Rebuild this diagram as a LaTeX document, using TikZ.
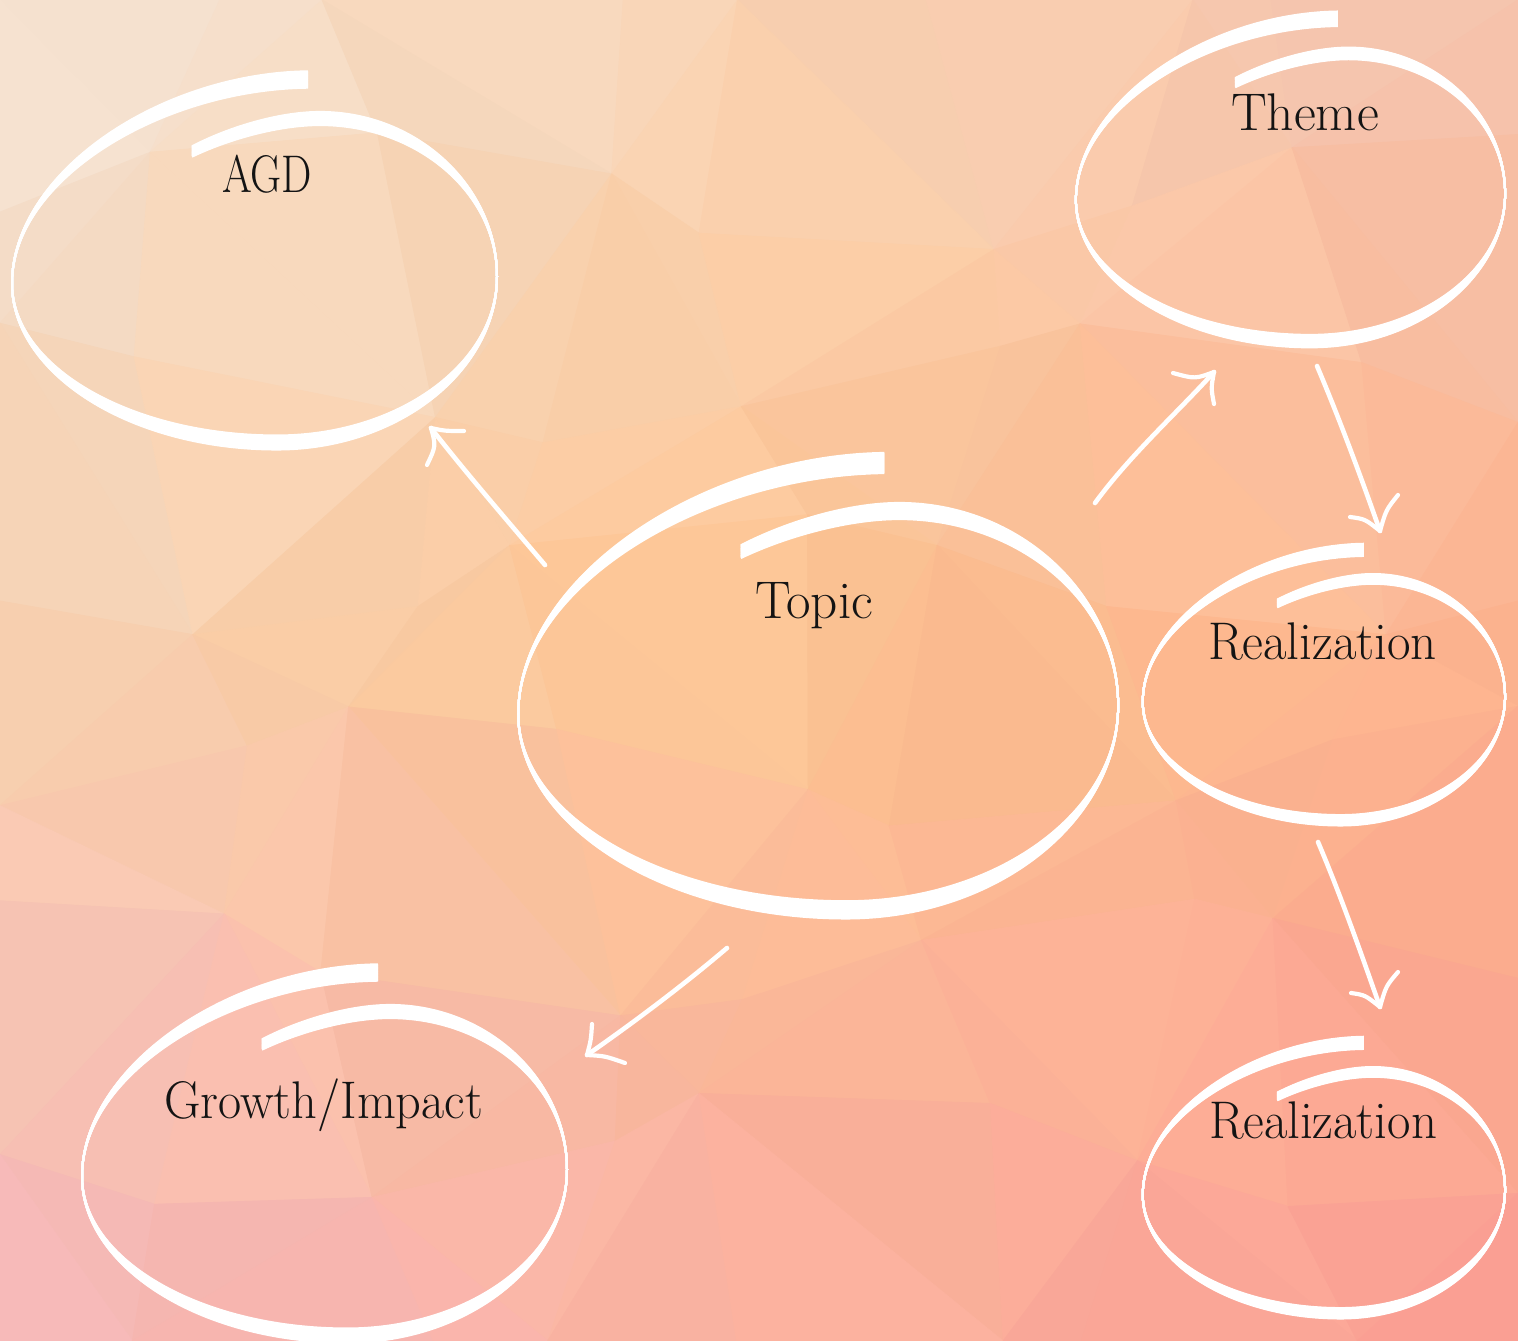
\documentclass[tikz,border=0pt]{standalone}
\usepackage{graphicx}
\definecolor{txt}{HTML}{141414}
\tikzset{
  hoopline/.style={white, line width=2pt, line cap=butt, line join=round},
  shaft/.style={white, line width=4.6pt, line cap=round},
  barb/.style={white, line width=4.2pt, line cap=round},
  lbl/.style={anchor=base, inner sep=0pt, text=txt, font=\fontsize{53}{56}\selectfont},
}
\newcommand\fitw[2]{\resizebox{#1}{\height}{#2}}
% piecewise bilinear colour field (3x3 control grid) + noise
\newcommand\bgcolorat[4]{%
  \pgfmathsetmacro\bwa{max(0,1-2*#1)}%
  \pgfmathsetmacro\bwc{max(0,2*#1-1)}%
  \pgfmathsetmacro\bwb{1-\bwa-\bwc}%
  \pgfmathsetmacro\bva{max(0,1-2*#2)}%
  \pgfmathsetmacro\bvc{max(0,2*#2-1)}%
  \pgfmathsetmacro\bvb{1-\bva-\bvc}%
  \pgfmathtruncatemacro\bgR{min(255,max(0,\bva*(\bwa*243+\bwb*249+\bwc*247)+\bvb*(\bwa*249+\bwb*253+\bwc*253)+\bvc*(\bwa*246+\bwb*250+\bwc*251)+#3))}%
  \pgfmathtruncatemacro\bgG{min(255,max(0,\bva*(\bwa*229+\bwb*213+\bwc*198)+\bvb*(\bwa*211+\bwb*196+\bwc*178)+\bvc*(\bwa*183+\bwb*175+\bwc*157)+#3))}%
  \pgfmathtruncatemacro\bgB{min(255,max(0,\bva*(\bwa*215+\bwb*182+\bwc*178)+\bvb*(\bwa*180+\bwb*146+\bwc*142)+\bvc*(\bwa*187+\bwb*161+\bwc*147)+#3))}%
  \definecolor{#4}{RGB}{\bgR,\bgG,\bgB}%
}
\newcommand\meshpt[4]{%
  \pgfmathsetmacro#3{#1*1518/8+(#1>0)*(#1<8)*60*sin(#1*137+#2*71+13)}%
  \pgfmathsetmacro#4{#2*1341/7+(#2>0)*(#2<7)*60*sin(#1*61+#2*113+47)}%
}
\newcommand\bgtri[6]{%
  \pgfmathsetmacro\bgu{(#1+#3+#5)/3/1518}%
  \pgfmathsetmacro\bgv{(#2+#4+#6)/3/1341}%
  \pgfmathsetmacro\bgn{2*sin(\bgu*5011+\bgv*3023)}%
  \bgcolorat{\bgu}{\bgv}{\bgn}{tric}%
  \filldraw[fill=tric, draw=tric, line width=0.8pt, line join=round] (#1,#2) -- (#3,#4) -- (#5,#6) -- cycle;%
}
% hand-drawn hoop (reference geometry = AGD hoop, box origin (11,73))
\newcommand\hoop[4]{%
  \begin{scope}[shift={(#1,#2)}, xscale=#3, yscale=#4, shift={(-11,-73)}]
    \foreach \s in {-1,-0.9,...,1.01}{%
      \draw[hoopline, shift={(254,275)}, yscale={1+0.042*\s}, shift={(-254,-268.5)}]
        (192,145) .. controls (230,126) and (280,112) .. (320,112)
        .. controls (417,112) and (497,183) .. (497,270)
        .. controls (497,361) and (398,436) .. (277,436)
        .. controls (131,436) and (12,364) .. (12,277)
        .. controls (12,170) and (160,75) .. (308,73);
    }
  \end{scope}%
}
\begin{document}
\begin{tikzpicture}[x=1pt,y=-1pt]
\useasboundingbox (0,0) rectangle (1518,1341);
\fill[orange!40] (0,0) rectangle (1518,1341);
% low-poly background
\foreach \i in {0,...,7}{
  \foreach \j in {0,...,6}{
    \pgfmathtruncatemacro\ii{\i+1}
    \pgfmathtruncatemacro\jj{\j+1}
    \meshpt{\i}{\j}{\xa}{\ya}
    \meshpt{\ii}{\j}{\xb}{\yb}
    \meshpt{\ii}{\jj}{\xc}{\yc}
    \meshpt{\i}{\jj}{\xd}{\yd}
    \pgfmathtruncatemacro\pty{mod(\i+\j,2)}
    \ifnum\pty=0
      \bgtri{\xa}{\ya}{\xb}{\yb}{\xc}{\yc}
      \bgtri{\xa}{\ya}{\xc}{\yc}{\xd}{\yd}
    \else
      \bgtri{\xa}{\ya}{\xb}{\yb}{\xd}{\yd}
      \bgtri{\xb}{\yb}{\xc}{\yc}{\xd}{\yd}
    \fi
  }
}
% hoops
\hoop{11}{73}{1}{1}
\hoop{517}{455}{1.237}{1.231}
\hoop{1075}{13}{0.885}{0.888}
\hoop{1142}{545}{0.747}{0.745}
\hoop{1142}{1038}{0.747}{0.745}
\hoop{81}{966}{1.0}{1.0}
% labels
\node[lbl] (tAGD) at (267,192) {\fitw{90pt}{AGD}};
\node[lbl] (tTheme) at (1305,130) {\fitw{148pt}{Theme}};
\node[lbl] (tTopic) at (814,618) {\fitw{118pt}{Topic}};
\node[lbl] (tReal1) at (1322.5,659) {\fitw{229pt}{Realization}};
\node[lbl] (tReal2) at (1323,1138) {\fitw{228pt}{Realization}};
\node[lbl] (tGrowth) at (323.5,1118) {\fitw{319pt}{Growth/Impact}};
% arrow end points
\coordinate (a1t) at (545,565); \coordinate (a1h) at (431,428);
\coordinate (a1b1) at (464,431); \coordinate (a1b2) at (427,465);
\coordinate (a2t) at (1095,503); \coordinate (a2h) at (1214,372);
\coordinate (a2b1) at (1173,373); \coordinate (a2b2) at (1214,404);
\coordinate (a3t) at (1317,366); \coordinate (a3h) at (1380,531);
\coordinate (a3b1) at (1350,517); \coordinate (a3b2) at (1398,495);
\coordinate (a4t) at (1318,842); \coordinate (a4h) at (1380,1007);
\coordinate (a4b1) at (1351,993); \coordinate (a4b2) at (1398,972);
\coordinate (a5t) at (727,948); \coordinate (a5h) at (587,1055);
\coordinate (a5b1) at (592,1024); \coordinate (a5b2) at (625,1063);
% arrows
\draw[shaft] (a1t) .. controls (505,518) and (462,468) .. (a1h);
\draw[barb] (a1h) .. controls (445,431) .. (a1b1);
\draw[barb] (a1h) .. controls (436,446) .. (a1b2);
\draw[shaft] (a2t) .. controls (1130,455) and (1178,412) .. (a2h);
\draw[barb] (a2h) .. controls (1195,379) .. (a2b1);
\draw[barb] (a2h) .. controls (1211,388) .. (a2b2);
\draw[shaft] (a3t) .. controls (1340,420) and (1362,480) .. (a3h);
\draw[barb] (a3h) .. controls (1365,519) .. (a3b1);
\draw[barb] (a3h) .. controls (1386,510) .. (a3b2);
\draw[shaft] (a4t) .. controls (1341,896) and (1362,956) .. (a4h);
\draw[barb] (a4h) .. controls (1365,995) .. (a4b1);
\draw[barb] (a4h) .. controls (1386,986) .. (a4b2);
\draw[shaft] (a5t) .. controls (680,988) and (630,1025) .. (a5h);
\draw[barb] (a5h) .. controls (591,1040) .. (a5b1);
\draw[barb] (a5h) .. controls (605,1056) .. (a5b2);
\end{tikzpicture}
\end{document}
